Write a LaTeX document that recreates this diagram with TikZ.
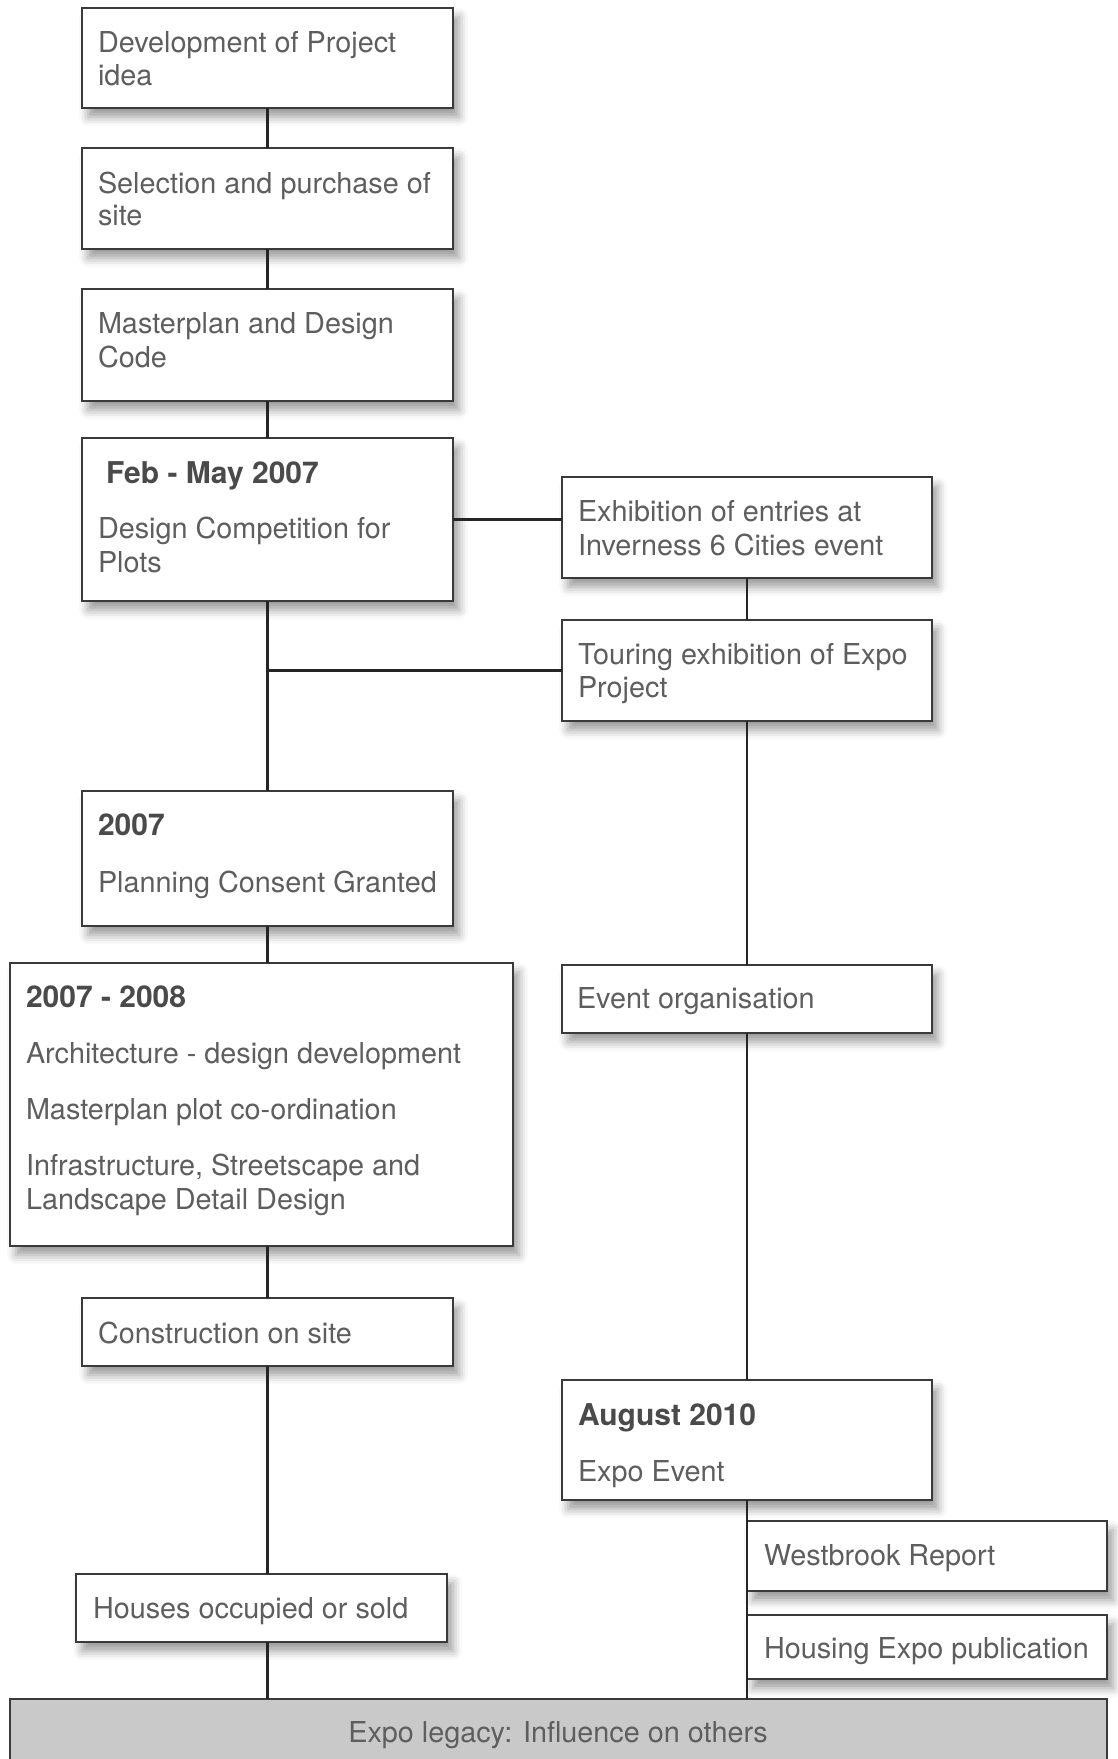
\documentclass[tikz,border=0pt]{standalone}
\usepackage{fontspec}
\setmainfont{TeX Gyre Heros}
\usetikzlibrary{shadows.blur,calc}
\definecolor{txtgray}{HTML}{5E5E5E}
\definecolor{headgray}{HTML}{4A4A4A}
\definecolor{edgegray}{HTML}{3A3A3A}
\definecolor{linegray}{HTML}{252525}
\definecolor{legacyfill}{HTML}{C9C9C9}
\tikzset{
  box/.style={draw=edgegray, line width=1.6pt, fill=white, inner sep=0pt, outer sep=0pt,
    blur shadow={shadow xshift=6pt, shadow yshift=-9pt, shadow blur radius=9pt, shadow opacity=40}},
  legbox/.style={draw=edgegray, line width=1.6pt, fill=legacyfill, inner sep=0pt, outer sep=0pt},
  txt/.style={anchor=base west, inner sep=0pt, outer sep=0pt, text=txtgray, font=\fontsize{28.8}{33}\selectfont},
  head/.style={txt, text=headgray, font=\fontsize{30}{33}\selectfont\bfseries},
  conn/.style={draw=linegray, line width=2.2pt}
}
\newcommand\bx[6][box]{\node[#1, minimum width={(#5-#3)*1pt}, minimum height={(#6-#4)*1pt}] (#2) at ({(#3+#5)/2},{(#4+#6)/2}) {};}
\newcommand\tx[5][txt]{\node[#1] (#2) at (#3,#4) {#5};}
\begin{document}
\begin{tikzpicture}[x=1pt,y=-1pt]
\useasboundingbox (0,0) rectangle (1118,1759);
% boxes
\bx{B1}{82}{8}{453}{108}
\bx{B2}{82}{148}{453}{249}
\bx{B3}{82}{289}{453}{401}
\bx{B4}{82}{438}{453}{601}
\bx{Exh}{562}{477}{932}{578}
\bx{Tour}{562}{620}{932}{721}
\bx{Plan}{82}{791}{453}{926}
\bx{Arch}{10}{963}{513}{1246}
\bx{Evt}{562}{965}{932}{1033}
\bx{Cons}{82}{1298}{453}{1366}
\bx{Aug}{562}{1380}{932}{1500}
\bx{West}{747}{1521}{1107}{1591}
\bx{Hous}{747}{1615}{1107}{1679}
\bx{Houses}{76}{1574}{447}{1642}
\bx[legbox]{Legacy}{10}{1699}{1107}{1790}
% texts
\tx{t1a}{98}{52}{Development of Project}
\tx{t1b}{98}{85}{idea}
\tx{t2a}{98}{193}{Selection and purchase of}
\tx{t2b}{98}{225}{site}
\tx{t3a}{98}{333}{Masterplan and Design}
\tx{t3b}{98}{367}{Code}
\tx[head]{t4h}{106}{483}{Feb - May 2007}
\tx{t4a}{98}{538}{Design Competition for}
\tx{t4b}{98}{572}{Plots}
\tx{t5a}{578}{521}{Exhibition of entries at}
\tx{t5b}{578}{555}{Inverness 6 Cities event}
\tx{t6a}{578}{664}{Touring exhibition of Expo}
\tx{t6b}{578}{697}{Project}
\tx[head]{t7h}{98}{835}{2007}
\tx{t7a}{98}{892}{Planning Consent Granted}
\tx[head]{t8h}{26}{1007}{2007 - 2008}
\tx{t8a}{26}{1063}{Architecture - design development}
\tx{t8b}{26}{1119}{Masterplan plot co-ordination}
\tx{t8c}{26}{1175}{Infrastructure, Streetscape and}
\tx{t8d}{26}{1209}{Landscape Detail Design}
\tx{t9a}{577}{1008}{Event organisation}
\tx{t10a}{98}{1343}{Construction on site}
\tx[head]{t11h}{578}{1425}{August 2010}
\tx{t11a}{578}{1481}{Expo Event}
\tx{t12a}{764}{1565}{Westbrook Report}
\tx{t13a}{764}{1658}{Housing Expo publication}
\tx{t14a}{93}{1618}{Houses occupied or sold}
\node[txt, anchor=base] (t15a) at (558,1742) {Expo legacy: Influence on others};
% connectors
\draw[conn] (B1.south) -- (B2.north);
\draw[conn] (B2.south) -- (B3.north);
\draw[conn] (B3.south) -- (B4.north);
\draw[conn] (B4.south) -- (Plan.north);
\draw[conn] (B4.east) -- (B4.east -| Exh.west);
\draw[conn] (Exh.south) -- (Tour.north);
\draw[conn] (Tour.west) -- (Tour.west -| B4.south);
\draw[conn] (Tour.south) -- (Evt.north);
\draw[conn] (Evt.south) -- (Aug.north);
\draw[conn] (Aug.south) -- (Aug.south |- Legacy.north);
\draw[conn] (Plan.south) -- (Plan.south |- Arch.north);
\draw[conn] (Arch.south -| Plan.south) -- (Cons.north);
\draw[conn] (Cons.south) -- (Cons.south |- Houses.north);
\draw[conn] (Houses.south -| Cons.south) -- (Cons.south |- Legacy.north);
\end{tikzpicture}
\end{document}
